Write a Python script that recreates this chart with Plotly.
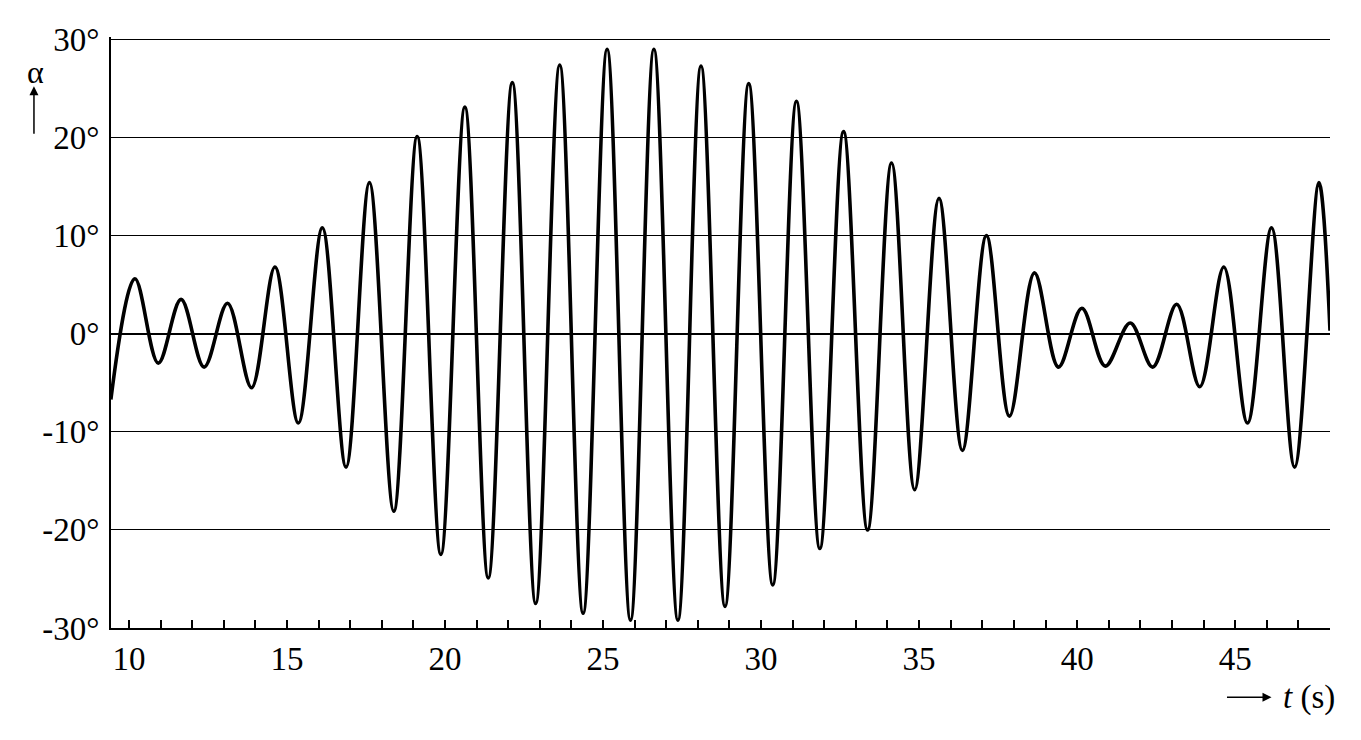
import plotly.graph_objects as go

# turning points of the swing (time in s, angle in degrees)
t_s = [9.43, 10.19, 10.93, 11.65, 12.38, 13.12, 13.88, 14.62, 15.36, 16.12,
       16.87, 17.61, 18.38, 19.12, 19.87, 20.63, 21.37, 22.13, 22.87, 23.63,
       24.37, 25.13, 25.87, 26.61, 27.37, 28.10, 28.86, 29.61, 30.37, 31.12,
       31.86, 32.61, 33.37, 34.13, 34.86, 35.63, 36.37, 37.13, 37.86, 38.65,
       39.41, 40.15, 40.89, 41.68, 42.39, 43.15, 43.88, 44.64, 45.39, 46.15,
       46.88, 47.65, 48.0]
alpha_deg = [-6.7, 5.6, -3.0, 3.5, -3.4, 3.1, -5.5, 6.8, -9.1, 10.8,
             -13.6, 15.4, -18.1, 20.1, -22.5, 23.1, -24.9, 25.6, -27.5, 27.4,
             -28.5, 29.0, -29.2, 29.0, -29.2, 27.3, -27.8, 25.5, -25.6, 23.7,
             -21.9, 20.6, -20.0, 17.4, -15.9, 13.8, -11.9, 10.0, -8.4, 6.2,
             -3.4, 2.6, -3.3, 1.1, -3.4, 3.0, -5.4, 6.8, -9.1, 10.8,
             -13.6, 15.4, 0.3]

x_ticks = list(range(10, 49))
x_labels = [str(v) if v % 5 == 0 else "" for v in x_ticks]
y_ticks = [-30, -20, -10, 0, 10, 20, 30]
y_labels = ["-30°", "-20°", "-10°", "0°", "10°", "20°", "30°"]

x_range = [9.434, 48.0]
# a little headroom so the 30° grid line is still drawn
y_range = [-30, 30.25]

fig = go.Figure()
fig.add_trace(go.Scatter(x=t_s, y=alpha_deg, mode="lines",
                         line=dict(color="black", width=3.6, shape="spline", smoothing=1),
                         hoverinfo="skip"))

# the page body has an 8px default margin, so the figure is a bit smaller
fig.update_layout(
    width=1353, height=732,
    margin=dict(l=103, r=31, t=29, b=112),
    plot_bgcolor="white", paper_bgcolor="white",
    showlegend=False,
    font=dict(family="Liberation Serif, Times New Roman, serif", size=33, color="black"),
    xaxis=dict(range=x_range, tickmode="array", tickvals=x_ticks, ticktext=x_labels,
               ticks="inside", ticklen=8, tickwidth=2, tickcolor="black",
               showline=True, linewidth=2, linecolor="black",
               showgrid=False, zeroline=False),
    # second x axis only draws the lower half of the crossing ticks
    xaxis2=dict(range=x_range, overlaying="x", anchor="y", side="bottom",
                tickmode="array", tickvals=x_ticks, ticks="outside", ticklen=8,
                tickwidth=2, tickcolor="black", showticklabels=False,
                showline=False, showgrid=False, zeroline=False),
    yaxis=dict(range=y_range, tickmode="array", tickvals=y_ticks, ticktext=y_labels,
               ticks="", ticklabelstandoff=3,
               showline=True, linewidth=2, linecolor="black",
               showgrid=True, gridcolor="black", gridwidth=1,
               zeroline=True, zerolinecolor="black", zerolinewidth=2),
    annotations=[
        dict(text="α", xref="paper", yref="paper", x=-0.0623, y=0.9406,
             xanchor="center", yanchor="middle", showarrow=False, font=dict(size=32)),
        dict(text="", xref="paper", yref="paper", x=-0.0632, y=0.9168,
             ax=0, ay=49, showarrow=True, arrowhead=2, arrowsize=1.2,
             arrowwidth=1.5, arrowcolor="black"),
        dict(text="<i>t</i> (s)", xref="paper", yref="paper", x=0.983, y=-0.117,
             xanchor="center", yanchor="middle", showarrow=False, font=dict(size=33)),
        dict(text="", xref="paper", yref="paper", x=0.952, y=-0.117,
             ax=-46, ay=0, showarrow=True, arrowhead=2, arrowsize=1.2,
             arrowwidth=1.5, arrowcolor="black"),
    ],
)

fig.write_html("out.html")
